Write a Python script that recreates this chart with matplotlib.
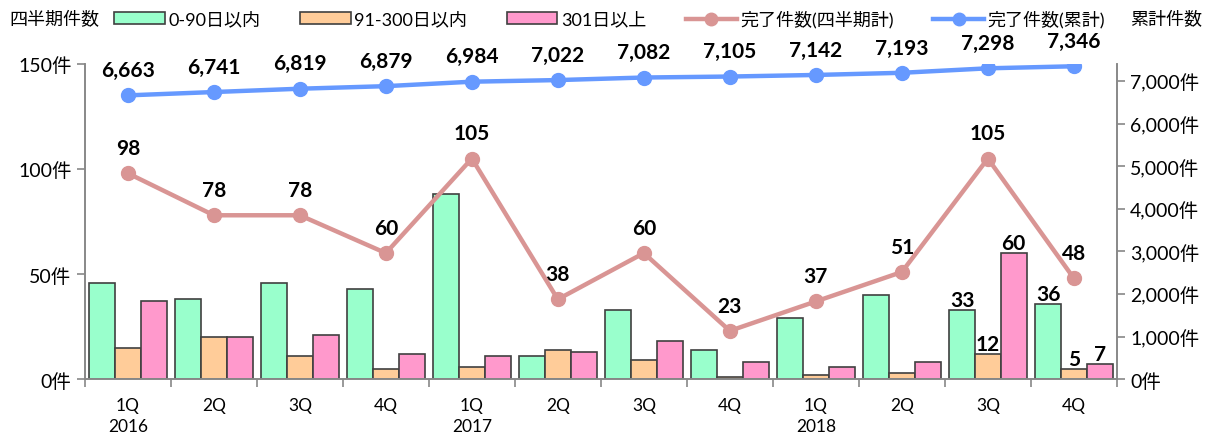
import numpy as np
import matplotlib
matplotlib.use("Agg")
import matplotlib.pyplot as plt
from matplotlib.patches import Patch
from matplotlib.lines import Line2D

plt.rcParams['font.family'] = ['Lato', 'Noto Sans CJK JP', 'DejaVu Sans']

# data
quarters = ['1Q', '2Q', '3Q', '4Q', '1Q', '2Q', '3Q', '4Q', '1Q', '2Q', '3Q', '4Q']
years = ['2016', '', '', '', '2017', '', '', '', '2018', '', '', '']
within_90 = [46, 38, 46, 43, 88, 11, 33, 14, 29, 40, 33, 36]
within_300 = [15, 20, 11, 5, 6, 14, 9, 1, 2, 3, 12, 5]
over_301 = [37, 20, 21, 12, 11, 13, 18, 8, 6, 8, 60, 7]
done_quarter = [98, 78, 78, 60, 105, 38, 60, 23, 37, 51, 105, 48]
done_total = [6663, 6741, 6819, 6879, 6984, 7022, 7082, 7105, 7142, 7193, 7298, 7346]
bar_label_idx = [10, 11]

c_green = '#99FFCC'
c_orange = '#FFCC99'
c_pink = '#FF99CC'
c_line1 = '#D99594'
c_line2 = '#6699FF'
edge = '#404040'
grey = '#888888'

fig = plt.figure(figsize=(12.12, 4.39), dpi=100)
ax = fig.add_axes([0.070, 0.134, 0.8515, 0.718])
ax2 = ax.twinx()

x = np.arange(len(quarters))
w = 0.30
b1 = ax.bar(x - w, within_90, w, color=c_green, edgecolor=edge, linewidth=1.2, zorder=2)
b2 = ax.bar(x, within_300, w, color=c_orange, edgecolor=edge, linewidth=1.2, zorder=2)
b3 = ax.bar(x + w, over_301, w, color=c_pink, edgecolor=edge, linewidth=1.2, zorder=2)

for bars in (b1, b2, b3):
    for i in bar_label_idx:
        r = bars[i]
        ax.annotate(str(int(r.get_height())), (r.get_x() + r.get_width() / 2, r.get_height()),
                    xytext=(0, 0), textcoords='offset points', ha='center', va='bottom',
                    fontsize=15, fontweight='bold', zorder=5)

ax.plot(x, done_quarter, color=c_line1, lw=3.2, marker='o', ms=10, zorder=4)
for xi, v in zip(x, done_quarter):
    ax.annotate(str(v), (xi, v), xytext=(0, 11), textcoords='offset points',
                ha='center', va='bottom', fontsize=15, fontweight='bold')

ax2.plot(x, done_total, color=c_line2, lw=3.2, marker='o', ms=10, zorder=4)
for xi, v in zip(x, done_total):
    ax2.annotate(f'{v:,}', (xi, v), xytext=(0, 11), textcoords='offset points',
                 ha='center', va='bottom', fontsize=15, fontweight='bold')

ax.set_xlim(-0.5, len(x) - 0.5)
ax.set_ylim(0, 150)
ax2.set_ylim(0, 7400)

ax.set_yticks([0, 50, 100, 150])
ax.set_yticklabels([f'{v}件' for v in [0, 50, 100, 150]], fontsize=14)
ax2.set_yticks(np.arange(0, 7001, 1000))
ax2.set_yticklabels([f'{v:,}件' for v in range(0, 7001, 1000)], fontsize=14)

ax.set_xticks(x)
ax.set_xticklabels([f'{q}\n{y}' for q, y in zip(quarters, years)], fontsize=12.5, linespacing=1.4)
ax.tick_params(axis='x', length=0, pad=13)
ax.set_xticks(np.arange(-0.5, len(x), 1), minor=True)
ax.tick_params(axis='x', which='minor', length=6, color=grey, width=1.2)
ax.tick_params(axis='y', length=6, color=grey, width=1.2)
ax2.tick_params(axis='y', length=6, color=grey, width=1.2)

for a in (ax, ax2):
    a.spines['top'].set_visible(False)
    for s in ('left', 'right', 'bottom'):
        a.spines[s].set_color(grey)
        a.spines[s].set_linewidth(1.2)

handles = [
    Patch(facecolor=c_green, edgecolor=edge, linewidth=1.2),
    Patch(facecolor=c_orange, edgecolor=edge, linewidth=1.2),
    Patch(facecolor=c_pink, edgecolor=edge, linewidth=1.2),
    Line2D([], [], color=c_line1, lw=3.2, marker='o', ms=9),
    Line2D([], [], color=c_line2, lw=3.2, marker='o', ms=9),
]
labels = ['0-90日以内', '91-300日以内', '301日以上', '完了件数(四半期計)', '完了件数(累計)']
fig.legend(handles, labels, loc='center', bbox_to_anchor=(0.503, 0.955), ncol=5,
           frameon=False, fontsize=13, handlelength=2.8, handleheight=0.6,
           columnspacing=2.2, handletextpad=0.2)

fig.text(0.008, 0.955, '四半期件数', fontsize=13, va='center', ha='left')
fig.text(0.992, 0.955, '累計件数', fontsize=13, va='center', ha='right')

fig.savefig('out.png', dpi=100)
